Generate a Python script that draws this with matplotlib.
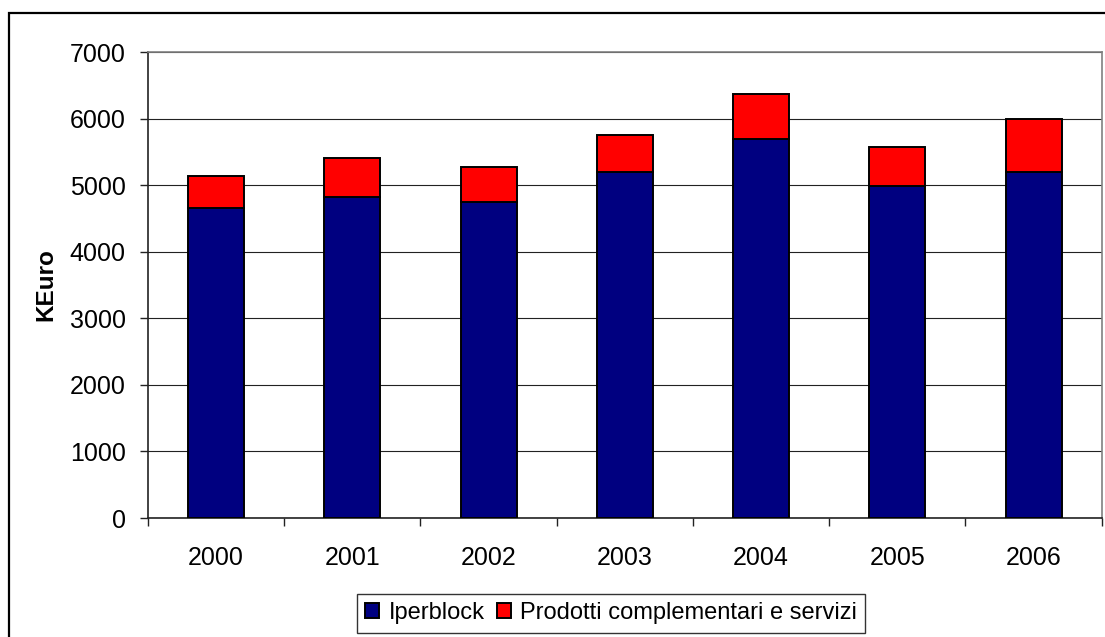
import numpy as np
import matplotlib
matplotlib.use("Agg")
import matplotlib.pyplot as plt
from matplotlib.patches import Rectangle

plt.rcParams['font.family'] = ['Liberation Sans', 'DejaVu Sans']

years = ['2000', '2001', '2002', '2003', '2004', '2005', '2006']
iperblock = [4660, 4820, 4740, 5190, 5700, 4985, 5190]
totale = [5140, 5405, 5275, 5750, 6370, 5570, 6000]
# red part = total minus Iperblock
prodotti = [t - i for t, i in zip(totale, iperblock)]

fig = plt.figure(figsize=(11.05, 6.37), dpi=100)
ax = fig.add_axes([148 / 1105, 1 - 518 / 637, (1101.7 - 148) / 1105, (518 - 52) / 637])

x = np.arange(len(years))
w = 0.41
ax.bar(x, iperblock, w, color='#000080', edgecolor='black', linewidth=1.4,
       label='Iperblock', zorder=3)
ax.bar(x, prodotti, w, bottom=iperblock, color='#FF0000', edgecolor='black',
       linewidth=1.4, label='Prodotti complementari e servizi', zorder=3)

ax.set_xlim(-0.5, len(years) - 0.5)
ax.set_ylim(0, 7000)
ax.set_yticks(range(0, 7001, 1000))
ax.yaxis.grid(True, color='#222222', linewidth=0.8)
ax.set_axisbelow(True)

ax.set_xticks(x)
ax.set_xticklabels(years)
ax.set_xticks(np.arange(-0.5, len(years)), minor=True)
ax.tick_params(axis='x', which='major', length=0, pad=20, labelsize=18)
ax.tick_params(axis='x', which='minor', length=6, width=1, color='#222222', direction='out')
ax.tick_params(axis='y', length=6, width=1, color='#222222', direction='out', pad=10, labelsize=18)

ax.spines['left'].set_color('#222222')
ax.spines['bottom'].set_color('#222222')
ax.spines['top'].set_color('#808080')
ax.spines['right'].set_color('#808080')
for s in ax.spines.values():
    s.set_linewidth(1.2)

ax.set_ylabel('KEuro', fontsize=17.5, fontweight='bold')
ax.yaxis.set_label_coords(-(148 - 57) / (1101.7 - 148), 0.5)

leg = fig.legend(loc='upper left', bbox_to_anchor=(357 / 1105, 1 - 594 / 637), ncol=2,
                 fontsize=17, frameon=True, fancybox=False, edgecolor='black',
                 borderaxespad=0, handlelength=0.6, handleheight=0.6,
                 handletextpad=0.4, columnspacing=0.5, borderpad=0.35)
leg.get_frame().set_linewidth(1)

# outer chart border, cut by the image on right and bottom
fig.patches.append(Rectangle((8.5 / 1105, -0.1), 1.2, 1 - 13 / 637 + 0.1,
                             transform=fig.transFigure, fill=False,
                             edgecolor='black', linewidth=1.6))

fig.savefig('out.png', dpi=100)
